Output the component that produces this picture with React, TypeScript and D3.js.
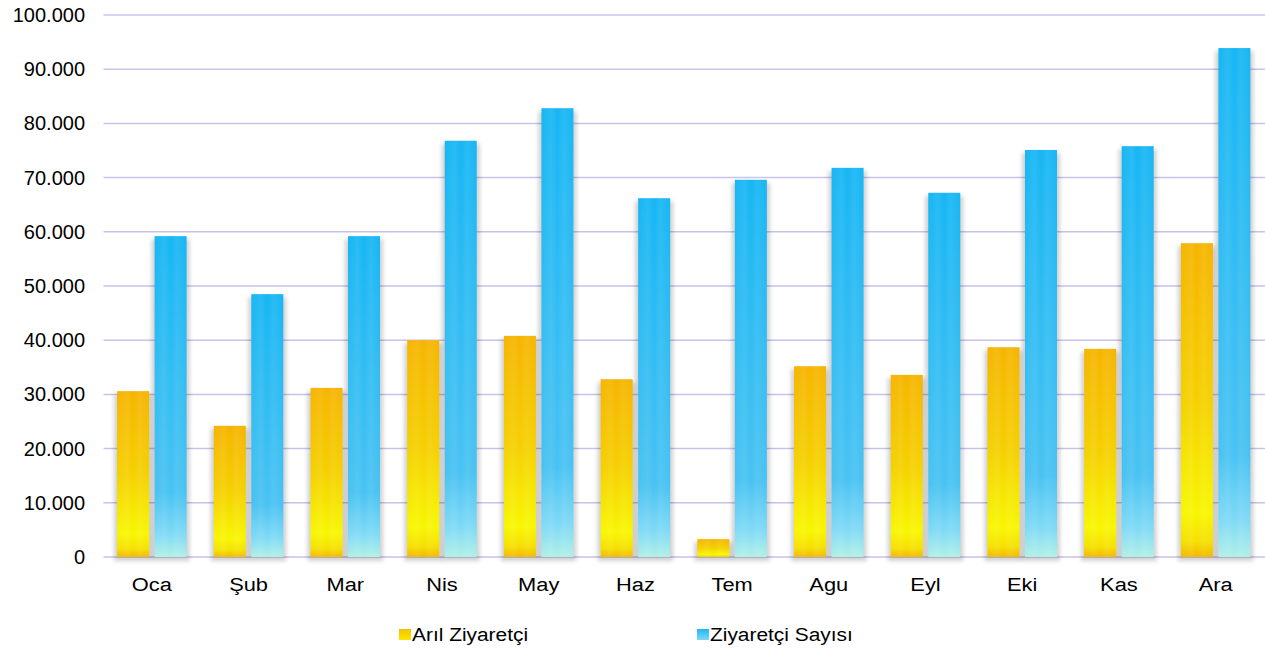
import React from "react";
import * as d3 from "d3";

const categories = ["Oca", "Şub", "Mar", "Nis", "May", "Haz", "Tem", "Agu", "Eyl", "Eki", "Kas", "Ara"];
const arilValues = [30600, 24200, 31200, 40000, 40800, 32800, 3300, 35200, 33600, 38700, 38400, 57900];
const ziyaretciValues = [59200, 48500, 59200, 76800, 82800, 66200, 69600, 71800, 67200, 75100, 75800, 93900];
const yTicks = [0, 10000, 20000, 30000, 40000, 50000, 60000, 70000, 80000, 90000, 100000];
const seriesNames = ["Arıl Ziyaretçi", "Ziyaretçi Sayısı"];

const W = 1265;
const H = 652;
const left = 104.5;
const right = 1265;
const top = 15;
const bottom = 557;

const fmt = (v: number) => (v === 0 ? "0" : d3.format(",")(v).replace(/,/g, "."));

export default function App() {
  const x = d3.scaleBand<string>().domain(categories).range([left, right]).paddingInner(0).paddingOuter(0);
  const y = d3.scaleLinear().domain([0, 100000]).range([bottom, top]);
  const barW = 32;
  const gap = 5.5;
  const font = "'Liberation Sans', Arial, sans-serif";

  return (
    <svg width={W} height={H} style={{ position: "absolute", left: 0, top: 0, background: "#fff" }}>
      <defs>
        <linearGradient id="gY" x1="0" y1="0" x2="0" y2="1">
          <stop offset="0" stopColor="#f6b400" />
          <stop offset="0.5" stopColor="#f5d000" />
          <stop offset="0.86" stopColor="#f8f600" />
          <stop offset="0.95" stopColor="#f6e000" />
          <stop offset="1" stopColor="#f2b800" />
        </linearGradient>
        <linearGradient id="gB" x1="0" y1="0" x2="0" y2="1">
          <stop offset="0" stopColor="#16b6f4" />
          <stop offset="0.8" stopColor="#48c2f2" />
          <stop offset="0.93" stopColor="#80daf6" />
          <stop offset="1" stopColor="#b0f0e6" />
        </linearGradient>
        <linearGradient id="gStripe" x1="0" y1="0" x2="1" y2="0">
          <stop offset="0" stopColor="#ffffff" stopOpacity="0" />
          <stop offset="0.3" stopColor="#ffffff" stopOpacity="0.08" />
          <stop offset="0.5" stopColor="#ffffff" stopOpacity="0" />
          <stop offset="0.7" stopColor="#ffffff" stopOpacity="0.08" />
          <stop offset="1" stopColor="#ffffff" stopOpacity="0" />
        </linearGradient>
        <linearGradient id="gLY" x1="0" y1="0" x2="0" y2="1">
          <stop offset="0" stopColor="#f6c000" />
          <stop offset="1" stopColor="#f8e800" />
        </linearGradient>
        <linearGradient id="gLB" x1="0" y1="0" x2="0" y2="1">
          <stop offset="0" stopColor="#20b8f0" />
          <stop offset="1" stopColor="#7fd8f6" />
        </linearGradient>
        <filter id="sh" x="-50%" y="-10%" width="200%" height="130%">
          <feGaussianBlur stdDeviation="2" />
        </filter>
      </defs>

      {yTicks.map((t) => (
        <g key={t}>
          <line x1={left - 1} x2={right} y1={y(t)} y2={y(t)} stroke="#c9c2ea" strokeWidth={1.5} />
          <text x={85} y={y(t)} dy="0.35em" textAnchor="end" fontFamily={font} fontSize={20} fill="#000">
            {fmt(t)}
          </text>
        </g>
      ))}

      {categories.map((c, i) => {
        const cx = x(c)! + x.bandwidth() / 2 - 1;
        const x1 = cx - gap / 2 - barW;
        const x2 = cx + gap / 2;
        const bars = [
          { xv: x1, v: arilValues[i], fill: "url(#gY)" },
          { xv: x2, v: ziyaretciValues[i], fill: "url(#gB)" },
        ];
        return (
          <g key={c}>
            {bars.map((b, j) => (
              <rect key={"s" + j} x={b.xv - 3} y={y(b.v) + 3} width={barW + 6} height={bottom - y(b.v) + 1} fill="#000" opacity={0.18} filter="url(#sh)" />
            ))}
            {bars.map((b, j) => (
              <g key={"b" + j}>
                <rect x={b.xv} y={y(b.v)} width={barW} height={bottom - y(b.v)} fill={b.fill} />
                <rect x={b.xv} y={y(b.v)} width={barW} height={bottom - y(b.v)} fill="url(#gStripe)" />
              </g>
            ))}
            <text x={cx} y={591} textAnchor="middle" fontFamily={font} fontSize={19} fill="#000" transform={`translate(${cx},0) scale(1.15,1) translate(${-cx},0)`}>
              {c}
            </text>
          </g>
        );
      })}

      <g fontFamily={font} fontSize={19} fill="#000">
        <rect x={399} y={629} width={12} height={11} fill="url(#gLY)" />
        <text x={412} y={641} transform="translate(412,0) scale(1.1,1) translate(-412,0)">{seriesNames[0]}</text>
        <rect x={697} y={629} width={12} height={11} fill="url(#gLB)" />
        <text x={710} y={641} transform="translate(710,0) scale(1.1,1) translate(-710,0)">{seriesNames[1]}</text>
      </g>
    </svg>
  );
}
